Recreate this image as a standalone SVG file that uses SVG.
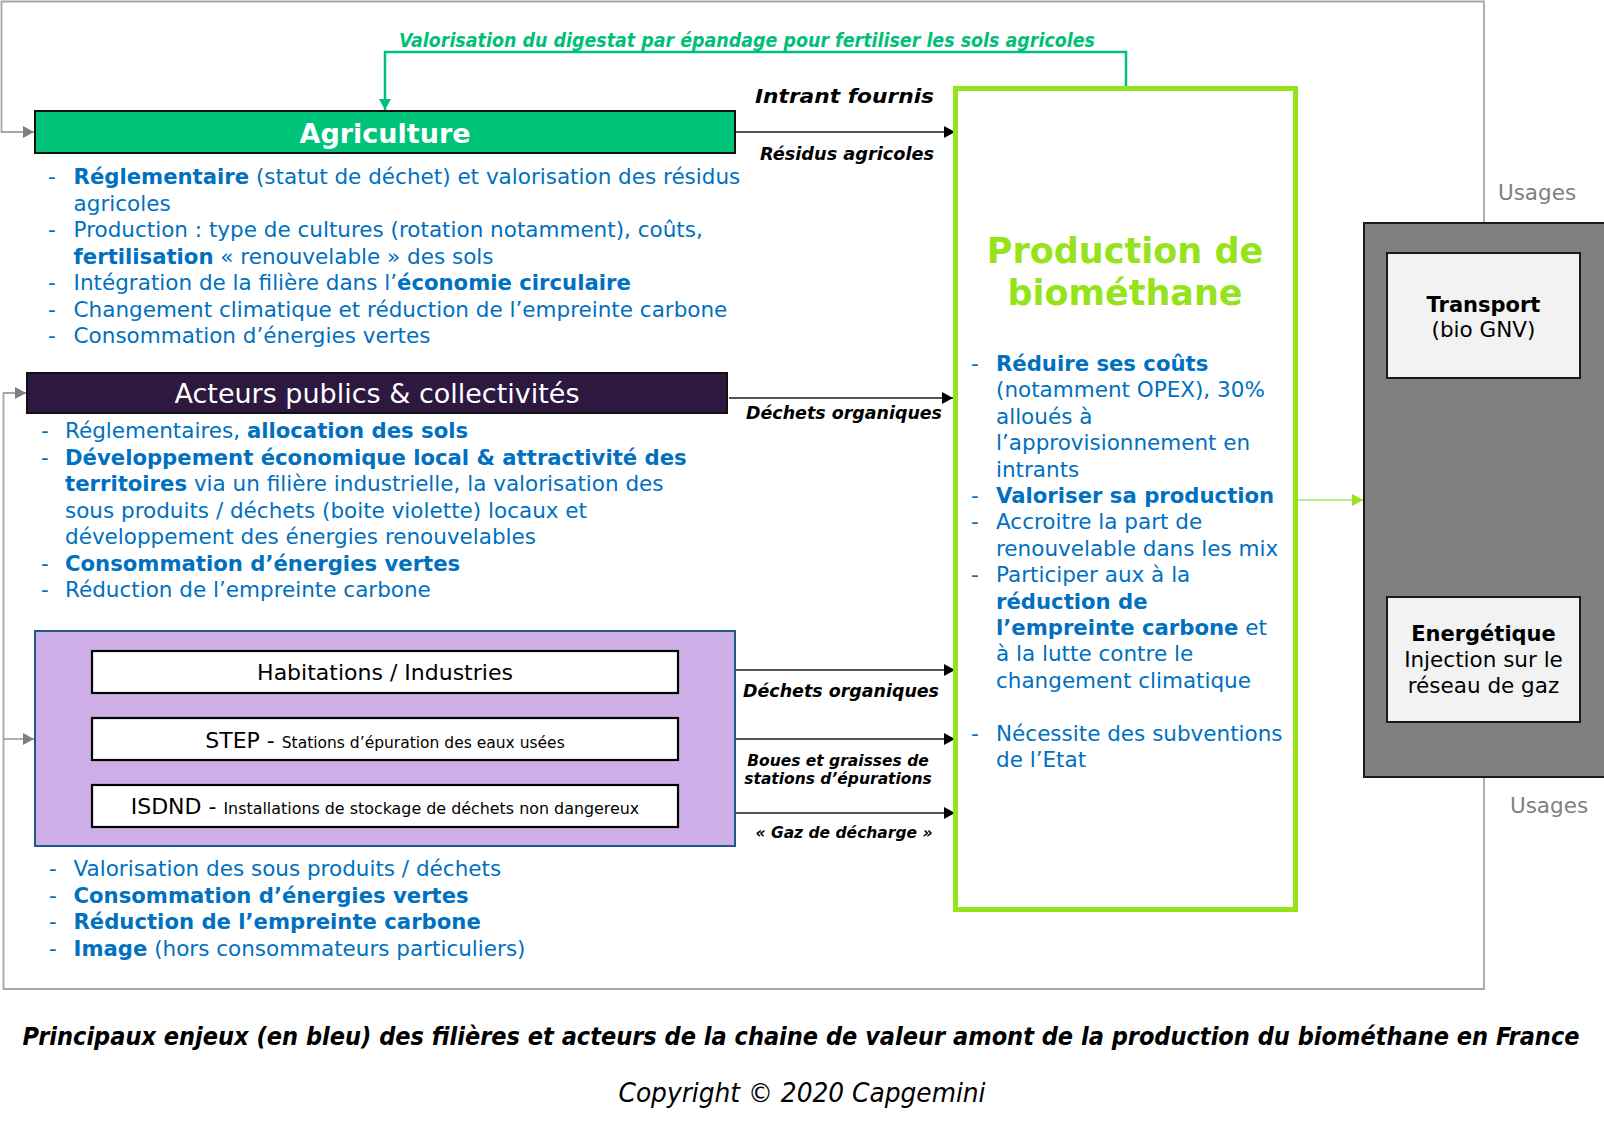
<svg xmlns="http://www.w3.org/2000/svg" width="1604" height="1129" viewBox="0 0 1604 1129">
<defs>
<style>
text{font-family:"DejaVu Sans",Verdana,sans-serif;}
.b{font-weight:bold;font-size:21.2px;}
.body{font-size:21.5px;fill:#0070c0;}
.lbl{font-size:17.5px;font-weight:bold;font-style:italic;fill:#000;}
.lbl2{font-size:15.5px;font-weight:bold;font-style:italic;fill:#000;}
.cal{font-family:"Liberation Sans Narrow","DejaVu Sans Condensed","Liberation Sans",sans-serif;}
.conn{fill:none;stroke:#1a1a1a;stroke-width:1.5;}
.gray{fill:none;stroke:#a6a6a6;stroke-width:1.8;}
.inner{fill:#ffffff;stroke:#000;stroke-width:2.2;}
.usage{fill:#f2f2f2;stroke:#1a1a1a;stroke-width:2;}
.ut{font-size:21.5px;fill:#000;}
.utb{font-size:21px;font-weight:bold;fill:#000;}
.usg{font-size:21.5px;fill:#808080;}
</style>
<marker id="ab" markerUnits="userSpaceOnUse" markerWidth="12" markerHeight="14" refX="11" refY="7" orient="auto">
<path d="M0,1 L11,7 L0,13 Z" fill="#000"/>
</marker>
<marker id="ag" markerUnits="userSpaceOnUse" markerWidth="12" markerHeight="14" refX="11" refY="7" orient="auto">
<path d="M0,1 L11,7 L0,13 Z" fill="#808080"/>
</marker>
<marker id="av" markerUnits="userSpaceOnUse" markerWidth="12" markerHeight="14" refX="11" refY="7" orient="auto">
<path d="M0,1 L11,7 L0,13 Z" fill="#00bf78"/>
</marker>
<marker id="al" markerUnits="userSpaceOnUse" markerWidth="12" markerHeight="14" refX="11" refY="7" orient="auto">
<path d="M0,1 L11,7 L0,13 Z" fill="#94e31b"/>
</marker>
</defs>

<g id="connectors">
<path class="gray" d="M1484,222 V1.5 H1.5 V132 H34" marker-end="url(#ag)"/>
<path class="gray" d="M1484,777 V989 H3.5 V393 H26" marker-end="url(#ag)"/>
<path class="gray" d="M3.5,739 H34" marker-end="url(#ag)"/>
<path d="M1126,86 V52 H385 V110" fill="none" stroke="#00bf78" stroke-width="2.5" marker-end="url(#av)"/>
<path class="conn" d="M735,132 H955" marker-end="url(#ab)"/>
<path class="conn" d="M729,398 H953" marker-end="url(#ab)"/>
<path class="conn" d="M735,670 H955" marker-end="url(#ab)"/>
<path class="conn" d="M735,739 H955" marker-end="url(#ab)"/>
<path class="conn" d="M732,813 H955" marker-end="url(#ab)"/>
<path d="M1298,500 H1363" fill="none" stroke="#a8e46a" stroke-width="1.5" marker-end="url(#al)"/>
<text class="cal" x="399" y="47" font-size="20" font-weight="bold" font-style="italic" fill="#00bf78" textLength="696" lengthAdjust="spacingAndGlyphs">Valorisation du digestat par épandage pour fertiliser les sols agricoles</text>
<text x="755" y="103" font-size="20" font-weight="bold" font-style="italic" textLength="179" lengthAdjust="spacingAndGlyphs">Intrant fournis</text>
<text class="lbl" x="760" y="160" textLength="174" lengthAdjust="spacingAndGlyphs">Résidus agricoles</text>
<text class="lbl" x="746" y="419" textLength="196" lengthAdjust="spacingAndGlyphs">Déchets organiques</text>
<text class="lbl" x="743" y="697" textLength="196" lengthAdjust="spacingAndGlyphs">Déchets organiques</text>
<text class="lbl2" x="838" y="766" text-anchor="middle">Boues et graisses de</text>
<text class="lbl2" x="838" y="784" text-anchor="middle">stations d’épurations</text>
<text class="lbl2" x="844" y="838" text-anchor="middle">« Gaz de décharge »</text>
</g>

<g id="agriculture">
<rect x="35" y="111" width="700" height="42" fill="#00c37a" stroke="#111" stroke-width="2"/>
<text x="385" y="143" text-anchor="middle" font-size="27" font-weight="bold" fill="#fff">Agriculture</text>
<g class="body">
<text x="48" y="184">-</text>
<text x="73.6" y="184"><tspan class="b">Réglementaire</tspan> (statut de déchet) et valorisation des résidus</text>
<text x="73.6" y="210.5">agricoles</text>
<text x="48" y="237">-</text>
<text x="73.6" y="237">Production : type de cultures (rotation notamment), coûts,</text>
<text x="73.6" y="263.5"><tspan class="b">fertilisation</tspan> « renouvelable » des sols</text>
<text x="48" y="290">-</text>
<text x="73.6" y="290">Intégration de la filière dans l’<tspan class="b">économie circulaire</tspan></text>
<text x="48" y="316.5">-</text>
<text x="73.6" y="316.5">Changement climatique et réduction de l’empreinte carbone</text>
<text x="48" y="343">-</text>
<text x="73.6" y="343">Consommation d’énergies vertes</text>
</g>
</g>

<g id="acteurs">
<rect x="27" y="373" width="700" height="40" fill="#2d1840" stroke="#111" stroke-width="2"/>
<text x="377" y="403" text-anchor="middle" font-size="27" fill="#fff">Acteurs publics &amp; collectivités</text>
<g class="body">
<text x="41" y="438">-</text>
<text x="65" y="438">Réglementaires, <tspan class="b">allocation des sols</tspan></text>
<text x="41" y="464.5">-</text>
<text x="65" y="464.5" class="b">Développement économique local &amp; attractivité des</text>
<text x="65" y="491"><tspan class="b">territoires</tspan> via un filière industrielle, la valorisation des</text>
<text x="65" y="517.5">sous produits / déchets (boite violette) locaux et</text>
<text x="65" y="544">développement des énergies renouvelables</text>
<text x="41" y="570.5">-</text>
<text x="65" y="570.5" class="b">Consommation d’énergies vertes</text>
<text x="41" y="597">-</text>
<text x="65" y="597">Réduction de l’empreinte carbone</text>
</g>
</g>

<g id="dechets">
<rect x="35" y="631" width="700" height="215" fill="#cdaee6" stroke="#1f5a8a" stroke-width="2"/>
<rect class="inner" x="92" y="651" width="586" height="42"/>
<text x="385" y="680" text-anchor="middle" font-size="22">Habitations / Industries</text>
<rect class="inner" x="92" y="718" width="586" height="42"/>
<text x="385" y="748" text-anchor="middle" font-size="22">STEP - <tspan font-size="15.5">Stations d’épuration des eaux usées</tspan></text>
<rect class="inner" x="92" y="785" width="586" height="42"/>
<text x="385" y="814" text-anchor="middle" font-size="22">ISDND - <tspan font-size="15.9">Installations de stockage de déchets non dangereux</tspan></text>
<g class="body">
<text x="49" y="876">-</text>
<text x="73.5" y="876">Valorisation des sous produits / déchets</text>
<text x="49" y="902.5">-</text>
<text x="73.5" y="902.5" class="b">Consommation d’énergies vertes</text>
<text x="49" y="929">-</text>
<text x="73.5" y="929" class="b">Réduction de l’empreinte carbone</text>
<text x="49" y="955.5">-</text>
<text x="73.5" y="955.5"><tspan class="b">Image</tspan> (hors consommateurs particuliers)</text>
</g>
</g>

<g id="production">
<rect x="955.5" y="88.5" width="340" height="821" fill="#fff" stroke="#94e31b" stroke-width="5"/>
<text x="1125" y="263" text-anchor="middle" font-size="35" font-weight="bold" fill="#94e31b">Production de</text>
<text x="1125" y="305" text-anchor="middle" font-size="35" font-weight="bold" fill="#94e31b">biométhane</text>
<g class="body">
<text x="971" y="371">-</text>
<text x="996" y="371" class="b">Réduire ses coûts</text>
<text x="996" y="397.4">(notamment OPEX), 30%</text>
<text x="996" y="423.8">alloués à</text>
<text x="996" y="450.2">l’approvisionnement en</text>
<text x="996" y="476.6">intrants</text>
<text x="971" y="503">-</text>
<text x="996" y="503" class="b">Valoriser sa production</text>
<text x="971" y="529.4">-</text>
<text x="996" y="529.4">Accroitre la part de</text>
<text x="996" y="555.8">renouvelable dans les mix</text>
<text x="971" y="582.2">-</text>
<text x="996" y="582.2">Participer aux à la</text>
<text x="996" y="608.6" class="b">réduction de</text>
<text x="996" y="635"><tspan class="b">l’empreinte carbone</tspan> et</text>
<text x="996" y="661.4">à la lutte contre le</text>
<text x="996" y="687.8">changement climatique</text>
<text x="971" y="740.6">-</text>
<text x="996" y="740.6">Nécessite des subventions</text>
<text x="996" y="767">de l’Etat</text>
</g>
</g>

<g id="usages">
<rect x="1364" y="223" width="252" height="554" fill="#808080" stroke="#1a1a1a" stroke-width="2"/>
<text class="usg" x="1537" y="200" text-anchor="middle">Usages</text>
<text class="usg" x="1549" y="813" text-anchor="middle">Usages</text>
</g>

<g id="transport">
<rect class="usage" x="1387" y="253" width="193" height="125"/>
<text class="utb" x="1483.5" y="312" text-anchor="middle">Transport</text>
<text class="ut" x="1483.5" y="337" text-anchor="middle">(bio GNV)</text>
</g>

<g id="energetique">
<rect class="usage" x="1387" y="597" width="193" height="125"/>
<text class="utb" x="1483.5" y="641" text-anchor="middle">Energétique</text>
<text class="ut" x="1483.5" y="667" text-anchor="middle">Injection sur le</text>
<text class="ut" x="1483.5" y="693" text-anchor="middle">réseau de gaz</text>
</g>

<g id="caption">
<text class="cal" x="22.5" y="1045" font-size="25.4" font-weight="bold" font-style="italic" fill="#000" textLength="1557" lengthAdjust="spacingAndGlyphs">Principaux enjeux (en bleu) des filières et acteurs de la chaine de valeur amont de la production du biométhane en France</text>
<text class="cal" x="802" y="1102" text-anchor="middle" font-size="27" font-style="italic" fill="#000" textLength="367" lengthAdjust="spacingAndGlyphs">Copyright © 2020 Capgemini</text>
</g>
</svg>
